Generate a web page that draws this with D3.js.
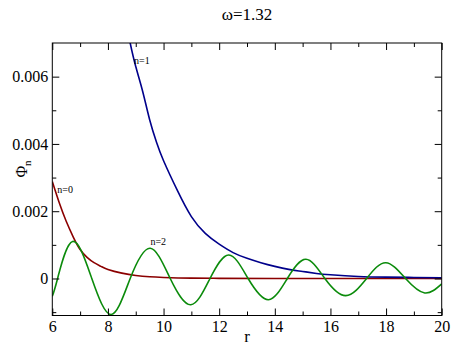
<!DOCTYPE html>
<html>
<head>
<meta charset="utf-8">
<script src="https://cdn.jsdelivr.net/npm/d3@7"></script>
<style>
  body { margin: 0; background: #fff; }
</style>
</head>
<body>
<div id="chart"></div>
<script>
// readings of the three curves (r, Phi_n)
var r0 = [6, 6.25, 6.5, 6.75, 7.0, 7.25, 7.5, 7.75, 8.0, 8.5, 9.0, 9.5, 10, 11, 12, 14, 20];
var phi0 = [0.00288, 0.00225, 0.00170, 0.00124, 0.00086, 0.00063, 0.00047, 0.00036, 0.00027, 0.00016, 0.00009, 0.00005, 0.00003, 0.00001, 0.000005, 0, 0];

var r1 = [8.6, 8.8, 9.0, 9.25, 9.5, 9.75, 10.0, 10.5, 11.0, 11.5, 12.0, 12.5, 13.0, 13.5, 14.0, 14.5, 15.0, 15.5, 16.0, 17.0, 18.0, 19.0, 20.0];
var phi1 = [0.0078, 0.0070, 0.0063, 0.00556, 0.00472, 0.00404, 0.00350, 0.00261, 0.00184, 0.00134, 0.00102, 0.00077, 0.00060, 0.00047, 0.00036, 0.00027, 0.00021, 0.00015, 0.00011, 0.00006, 0.00004, 0.00003, 0.00002];

var r2 = [6.0, 6.19, 6.73, 7.42, 8.12, 8.8, 9.52, 10.24, 10.98, 11.67, 12.35, 13.04, 13.77, 14.45, 15.12, 15.8, 16.55, 17.3, 17.99, 18.7, 19.39, 20.0];
var phi2 = [-0.00053, 0, 0.0011, 0, -0.00107, 0, 0.0009, 0, -0.00078, 0, 0.0007, 0, -0.00063, 0, 0.00057, 0, -0.00051, 0, 0.00047, 0, -0.00043, -0.00016];

var xMajor = [6, 8, 10, 12, 14, 16, 18, 20];
var xMinor = [7, 9, 11, 13, 15, 17, 19];
var yMajor = [0, 0.002, 0.004, 0.006];
var yMinor = [-0.001, 0.001, 0.003, 0.005];
var yTickLabels = ["0", "0.002", "0.004", "0.006"];

var curveNames = ["n=0", "n=1", "n=2"];
var curveColors = ["#8b0000", "#00008b", "#0b8b0b"];

var serif = "'Liberation Serif'";
var W = 463, H = 351;
var margin = { top: 43, right: 21.3, bottom: 35.5, left: 52.3 };
var width = W - margin.left - margin.right;
var height = H - margin.top - margin.bottom;

var svg = d3.select("#chart").append("svg")
  .attr("width", W)
  .attr("height", H);

var g = svg.append("g")
  .attr("transform", `translate(${margin.left},${margin.top})`);

var x = d3.scaleLinear().domain([6, 20]).range([0, width]);
var y = d3.scaleLinear().domain([-0.0011, 0.007]).range([height, 0]);

// clip so n=1 is cut at the top of the frame
g.append("clipPath").attr("id", "clip")
  .append("rect").attr("width", width).attr("height", height);

var series = [
  { r: r0, v: phi0 },
  { r: r1, v: phi1 },
  { r: r2, v: phi2 },
];

var line = d3.line()
  .x((d) => x(d[0]))
  .y((d) => y(d[1]))
  .curve(d3.curveNatural);

g.append("g").attr("clip-path", "url(#clip)")
  .selectAll("path")
  .data(series)
  .enter()
  .append("path")
  .attr("d", (s) => line(s.r.map((rv, i) => [rv, s.v[i]])))
  .attr("fill", "none")
  .attr("stroke", (s, i) => curveColors[i])
  .attr("stroke-width", 1.6);

// ticks, all pointing inward
function ticks(axis) {
  return function (sel) {
    sel.call(axis);
    sel.attr("font-family", null).attr("font-size", null);
    sel.select(".domain").remove();
    sel.selectAll("line").attr("stroke", "#000");
    sel.selectAll("text").style("font-family", serif).style("font-size", "16px").attr("fill", "#000");
  };
}

g.append("g").attr("transform", `translate(0,${height})`)
  .call(ticks(d3.axisBottom(x).tickValues(xMajor).tickSize(-7).tickPadding(5).tickFormat(d3.format("d"))));
g.append("g").attr("transform", `translate(0,${height})`)
  .call(ticks(d3.axisBottom(x).tickValues(xMinor).tickSize(-4).tickFormat("")));
g.append("g")
  .call(ticks(d3.axisTop(x).tickValues(xMajor).tickSize(-7).tickFormat("")));
g.append("g")
  .call(ticks(d3.axisTop(x).tickValues(xMinor).tickSize(-4).tickFormat("")));

g.append("g")
  .call(ticks(d3.axisLeft(y).tickValues(yMajor).tickSize(-7).tickPadding(4).tickFormat((d, i) => yTickLabels[i])));
g.append("g")
  .call(ticks(d3.axisLeft(y).tickValues(yMinor).tickSize(-4).tickFormat("")));
g.append("g").attr("transform", `translate(${width},0)`)
  .call(ticks(d3.axisRight(y).tickValues(yMajor).tickSize(-7).tickFormat("")));
g.append("g").attr("transform", `translate(${width},0)`)
  .call(ticks(d3.axisRight(y).tickValues(yMinor).tickSize(-4).tickFormat("")));

// frame
g.append("rect")
  .attr("width", width)
  .attr("height", height)
  .attr("fill", "none")
  .attr("stroke", "#000")
  .attr("stroke-width", 1);

// curve labels
var labelPos = [[6.18, 0.00253], [8.94, 0.00638], [9.53, 0.00100]];
g.selectAll(".clabel")
  .data(curveNames)
  .enter()
  .append("text")
  .attr("class", "clabel")
  .attr("x", (d, i) => x(labelPos[i][0]))
  .attr("y", (d, i) => y(labelPos[i][1]))
  .style("font-family", serif)
  .style("font-size", "10px")
  .text((d) => d);

// title
svg.append("text")
  .attr("x", margin.left + width / 2)
  .attr("y", 20)
  .attr("text-anchor", "middle")
  .style("font-family", serif)
  .style("font-size", "17px")
  .text("\u03c9=1.32");

// axis titles
svg.append("text")
  .attr("x", margin.left + width / 2)
  .attr("y", 342)
  .attr("text-anchor", "middle")
  .style("font-family", serif)
  .style("font-size", "17px")
  .text("r");

var yl = svg.append("text")
  .attr("transform", "translate(27,169) rotate(-90)")
  .attr("text-anchor", "middle")
  .style("font-family", serif)
  .style("font-size", "16px");
yl.append("tspan").text("\u03a6");
yl.append("tspan").style("font-size", "11px").attr("dy", 4).text("n");
</script>
</body>
</html>
